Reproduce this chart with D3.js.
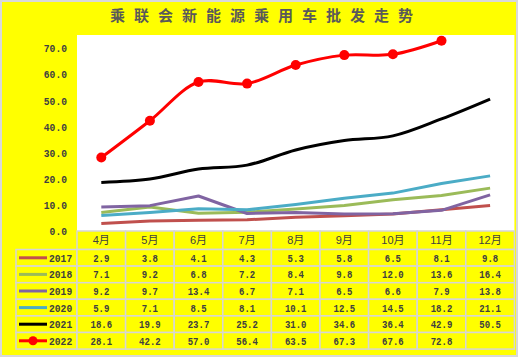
<!DOCTYPE html>
<html><head><meta charset="utf-8">
<script src="https://cdn.jsdelivr.net/npm/d3@7/dist/d3.min.js"></script>
<style>body{margin:0;background:#fff}svg{display:block}</style>
</head><body>
<svg id="c" width="518" height="357"></svg>
<script>
const title = "乘联会新能源乘用车批发走势";
const months = ["4月","5月","6月","7月","8月","9月","10月","11月","12月"];
const years = ["2017","2018","2019","2020","2021","2022"];
const v2017 = [2.9,3.8,4.1,4.3,5.3,5.8,6.5,8.1,9.8];
const v2018 = [7.1,9.2,6.8,7.2,8.4,9.8,12.0,13.6,16.4];
const v2019 = [9.2,9.7,13.4,6.7,7.1,6.5,6.6,7.9,13.8];
const v2020 = [5.9,7.1,8.5,8.1,10.1,12.5,14.5,18.2,21.1];
const v2021 = [18.6,19.9,23.7,25.2,31.0,34.6,36.4,42.9,50.5];
const v2022 = [28.1,42.2,57.0,56.4,63.5,67.3,67.6,72.8,null];
const yTicks = [0,10,20,30,40,50,60,70];

const seriesVals = [v2017,v2018,v2019,v2020,v2021,v2022];
const colors = ["#C0504D","#9BBB59","#8064A2","#4BACC6","#000000","#FF0000"];
const smooth = [false,false,false,false,true,true];

const svg = d3.select("#c");
const W = 518, H = 357;
svg.append("rect").attr("x",1).attr("y",1).attr("width",W-2).attr("height",H-2)
  .attr("fill","#FFFF00").attr("stroke","#d9d9d9").attr("stroke-width",2);

// title
svg.append("text").attr("x",110).attr("y",21)
  .attr("font-family","Noto Sans CJK SC").attr("font-weight","bold").attr("font-size",15)
  .attr("textLength",303).attr("lengthAdjust","spacing")
  .attr("fill","#595959").text(title);

const plotL = 77, plotR = 514.4, plotT = 35, plotB = 231;
svg.append("rect").attr("x",plotL).attr("y",plotT).attr("width",plotR-plotL).attr("height",plotB-plotT).attr("fill","#fff");

const x = d3.scaleBand().domain(months).range([plotL, plotR]);
const y = d3.scaleLinear().domain([0,75]).range([plotB, plotT]);

function mono(sel, charW, size){
  sel.attr("font-family","Liberation Mono").attr("font-size",size).attr("font-weight","bold").attr("fill","#404040")
    .attr("lengthAdjust","spacingAndGlyphs")
    .attr("textLength",function(){ return this.textContent.length*charW; });
}

// y axis labels
const ya = svg.append("g").attr("transform",`translate(${plotL},0)`)
  .call(d3.axisLeft(y).tickValues(yTicks).tickFormat(d3.format(".1f")).tickSize(0).tickPadding(10));
ya.select(".domain").remove();
mono(ya.selectAll("text"), 5.8, 11.5);

// lines
seriesVals.forEach((vals,i)=>{
  const line = d3.line().defined(d=>d!=null)
    .x((d,j)=>x(months[j])+x.bandwidth()/2).y(d=>y(d))
    .curve(smooth[i]?d3.curveCatmullRom.alpha(0.5):d3.curveLinear);
  svg.append("path").datum(vals).attr("d",line).attr("fill","none")
    .attr("stroke",colors[i]).attr("stroke-width",3).attr("stroke-linejoin","round");
});
// markers for 2022
svg.append("g").selectAll("circle").data(v2022.map((d,j)=>({d,j})).filter(o=>o.d!=null))
  .join("circle").attr("cx",o=>x(months[o.j])+x.bandwidth()/2).attr("cy",o=>y(o.d))
  .attr("r",5).attr("fill","#FF0000");

// table
const rowTop = 249.5, rowH = 16.6, headTop = 231;
const legL = 16;
const grid = "#d6d6d6";
const tg = svg.append("g");
// header cells
months.forEach(m=>{
  tg.append("rect").attr("x",x(m)).attr("y",headTop).attr("width",x.bandwidth()).attr("height",rowTop-headTop)
    .attr("fill","#FFFF00").attr("stroke",grid).attr("stroke-width",1.5);
  tg.append("text").attr("x",x(m)+x.bandwidth()/2).attr("y",(headTop+rowTop)/2+4).attr("text-anchor","middle")
    .attr("font-family","Liberation Sans, Noto Sans CJK SC").attr("font-size",11).attr("fill","#404040").text(m);
});
years.forEach((yr,i)=>{
  const ty = rowTop + i*rowH;
  tg.append("rect").attr("x",legL).attr("y",ty).attr("width",plotL-legL).attr("height",rowH)
    .attr("fill","#FFFF00").attr("stroke",grid).attr("stroke-width",1.5);
  const cy = ty + rowH/2;
  tg.append("line").attr("x1",19).attr("x2",47).attr("y1",cy).attr("y2",cy)
    .attr("stroke",colors[i]).attr("stroke-width",3);
  if (i===5) tg.append("circle").attr("cx",33).attr("cy",cy).attr("r",4.5).attr("fill","#FF0000");
  mono(tg.append("text").attr("x",49).attr("y",cy+4).text(yr), 5.8, 11.5);
  months.forEach((m,j)=>{
    tg.append("rect").attr("x",x(m)).attr("y",ty).attr("width",x.bandwidth()).attr("height",rowH)
      .attr("fill","#FFFF00").attr("stroke",grid).attr("stroke-width",1.5);
    const v = seriesVals[i][j];
    if (v!=null) mono(tg.append("text").attr("x",x(m)+x.bandwidth()/2).attr("y",cy+4).attr("text-anchor","middle")
      .text(v.toFixed(1)), 5.4, 11.5);
  });
});
</script>
</body></html>
